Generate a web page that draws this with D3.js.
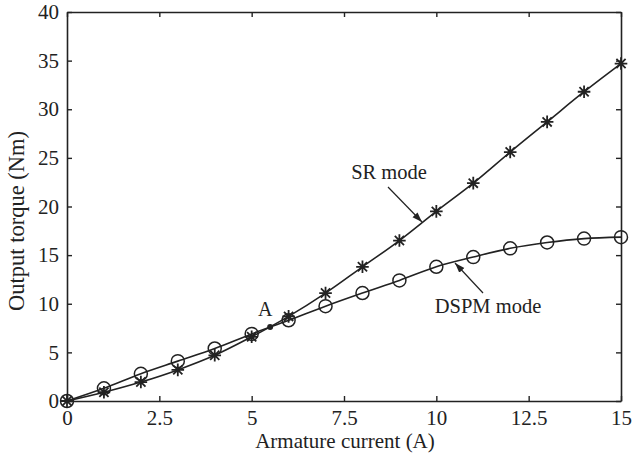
<!DOCTYPE html>
<html>
<head>
<meta charset="utf-8">
<script src="https://cdn.jsdelivr.net/npm/d3@7"></script>
<style>
  html, body { margin: 0; padding: 0; background: #fff; }
  text { font-family: "Liberation Serif", "Times New Roman", serif; fill: #222; }
</style>
</head>
<body>
<svg id="chart" width="633" height="459"></svg>
<script>
// Armature current (A)
const current = [0, 1, 2, 3, 4, 5, 6, 7, 8, 9, 10, 11, 12, 13, 14, 15];
// Output torque (Nm), SR mode
const srTorque = [0, 0.9, 1.95, 3.2, 4.7, 6.6, 8.7, 11.1, 13.8, 16.5, 19.5, 22.4, 25.6, 28.7, 31.8, 34.7];
// Output torque (Nm), DSPM mode
const dspmTorque = [0, 1.3, 2.8, 4.1, 5.4, 6.9, 8.3, 9.75, 11.1, 12.4, 13.8, 14.8, 15.7, 16.3, 16.7, 16.85];
// Crossover point A
const pointA = [5.5, 7.6];
const xTicks = [0, 2.5, 5, 7.5, 10, 12.5, 15];
const yTicks = [0, 5, 10, 15, 20, 25, 30, 35, 40];

const svg = d3.select("#chart");
const m = { left: 67, right: 12, top: 12, bottom: 58 };
const W = 633, H = 459;
const x = d3.scaleLinear().domain([0, 15]).range([m.left, W - m.right]);
const y = d3.scaleLinear().domain([0, 40]).range([H - m.bottom, m.top]);
const ink = "#222";

const defs = svg.append("defs");
defs.append("marker").attr("id", "arrow").attr("viewBox", "0 0 10 10")
  .attr("refX", 10).attr("refY", 5).attr("markerWidth", 10).attr("markerHeight", 10)
  .attr("markerUnits", "userSpaceOnUse").attr("orient", "auto")
  .append("path").attr("d", "M0,1.5 L10,5 L0,8.5 Z").attr("fill", ink);

// Axes with inward ticks on all four sides
const fmt = d => String(d);
const axisFont = 21;
const gx = svg.append("g").attr("transform", `translate(0,${y(0)})`)
  .call(d3.axisBottom(x).tickValues(xTicks).tickFormat(fmt).tickSizeInner(-5).tickSizeOuter(0).tickPadding(9));
const gy = svg.append("g").attr("transform", `translate(${x(0)},0)`)
  .call(d3.axisLeft(y).tickValues(yTicks).tickFormat(fmt).tickSizeInner(-5).tickSizeOuter(0).tickPadding(8));
const gt = svg.append("g").attr("transform", `translate(0,${y(40)})`)
  .call(d3.axisTop(x).tickValues(xTicks).tickFormat("").tickSizeInner(-5).tickSizeOuter(0));
const gr = svg.append("g").attr("transform", `translate(${x(15)},0)`)
  .call(d3.axisRight(y).tickValues(yTicks).tickFormat("").tickSizeInner(-5).tickSizeOuter(0));
[gx, gy, gt, gr].forEach(g => {
  g.select(".domain").attr("stroke", ink).attr("stroke-width", 1.6);
  g.selectAll(".tick line").attr("stroke", ink).attr("stroke-width", 1.4);
  g.selectAll(".tick text").attr("font-size", axisFont).attr("font-family", "Liberation Serif").attr("fill", ink);
});

// Axis titles
svg.append("text").attr("x", (x(0) + x(15)) / 2 + 1).attr("y", 448)
  .attr("text-anchor", "middle").attr("font-size", 21).text("Armature current (A)");
svg.append("text").attr("transform", `translate(24,${221}) rotate(-90)`)
  .attr("text-anchor", "middle").attr("font-size", 22.5).text("Output torque (Nm)");

// Curves
const line = d3.line().x(d => x(d[0])).y(d => y(d[1])).curve(d3.curveMonotoneX);
const sr = current.map((c, i) => [c, srTorque[i]]);
const dspm = current.map((c, i) => [c, dspmTorque[i]]);
svg.append("path").datum(dspm).attr("d", line).attr("fill", "none").attr("stroke", ink).attr("stroke-width", 1.6);
svg.append("path").datum(sr).attr("d", line).attr("fill", "none").attr("stroke", ink).attr("stroke-width", 1.6);

// DSPM markers: open circles
svg.append("g").selectAll("circle").data(dspm).join("circle")
  .attr("cx", d => x(d[0])).attr("cy", d => y(d[1])).attr("r", 6.5)
  .attr("fill", "none").attr("stroke", ink).attr("stroke-width", 1.5);

// SR markers: eight-armed asterisks
const s = 6.3, sd = 4.6;
const star = `M${-s},0L${s},0M0,${-s}L0,${s}M${-sd},${-sd}L${sd},${sd}M${-sd},${sd}L${sd},${-sd}`;
svg.append("g").selectAll("path").data(sr).join("path")
  .attr("transform", d => `translate(${x(d[0])},${y(d[1])})`)
  .attr("d", star).attr("stroke", ink).attr("stroke-width", 1.8).attr("fill", "none");

// Point A
svg.append("circle").attr("cx", x(pointA[0])).attr("cy", y(pointA[1])).attr("r", 3).attr("fill", ink);
svg.append("text").attr("x", x(pointA[0]) - 5).attr("y", y(pointA[1]) - 11)
  .attr("text-anchor", "middle").attr("font-size", 20).text("A");

// Annotations
svg.append("text").attr("x", 389).attr("y", 179).attr("text-anchor", "middle").attr("font-size", 20.5).text("SR mode");
svg.append("line").attr("x1", 388).attr("y1", 187).attr("x2", 422).attr("y2", 222)
  .attr("stroke", ink).attr("stroke-width", 1.2).attr("marker-end", "url(#arrow)");
svg.append("text").attr("x", 488).attr("y", 313).attr("text-anchor", "middle").attr("font-size", 20.5).text("DSPM mode");
svg.append("line").attr("x1", 483).attr("y1", 293).attr("x2", 455).attr("y2", 263)
  .attr("stroke", ink).attr("stroke-width", 1.2).attr("marker-end", "url(#arrow)");
</script>
</body>
</html>
